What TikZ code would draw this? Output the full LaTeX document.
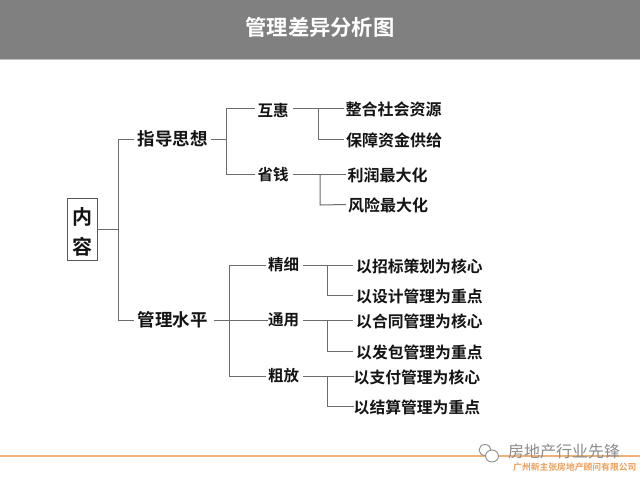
\documentclass[tikz,border=0pt]{standalone}
\usepackage{fontspec}
\setmainfont{Noto Sans CJK SC}[BoldFont={Noto Sans CJK SC Bold}]
\begin{document}
\begin{tikzpicture}[x=1pt,y=-1pt,
  ln/.style={draw=black!58,line width=1pt},
  lab/.style={font=\fontsize{16}{16}\selectfont\bfseries,text=black!92,inner sep=0pt,anchor=west,yshift=-1pt},
  lab2/.style={lab,font=\fontsize{15.8}{16}\selectfont\bfseries},
  mid/.style={font=\fontsize{15.5}{16}\selectfont\bfseries,text=black!92,inner sep=2pt},
  main/.style={font=\fontsize{17.5}{18}\selectfont\bfseries,text=black!92,inner sep=3pt}]
\useasboundingbox (0,0) rectangle (640,480);
\fill[white] (0,0) rectangle (640,480);
\fill[black!50] (0,0) rectangle (640,59);
\fill[black!25] (0,59) rectangle (640,60);
\node[font=\fontsize{21.3}{22}\selectfont\bfseries,text=white,inner sep=0pt] (title) at (320,27) {管理差异分析图};
% root
\node[draw=black!65,line width=.8pt,fill=white,minimum width=30pt,minimum height=62pt,inner sep=0pt] (root) at (82,229) {};
\node[font=\fontsize{20}{20}\selectfont\bfseries,text=black!92,inner sep=0pt] (r1) at (82,217) {内};
\node[font=\fontsize{20}{20}\selectfont\bfseries,text=black!92,inner sep=0pt] (r2) at (82,247) {容};
\node[main] (a1) at (172.5,139) {指导思想};
\node[main] (a2) at (172.5,320) {管理水平};
\coordinate (t0) at (118,229);
\coordinate (t1) at (118,139);
\coordinate (t2) at (118,320);
\draw[ln] (root.east) -- (t0);
\draw[ln] (a1.west) -- (t1) -- (t2) -- (a2.west);
% upper
\node[mid] (b1) at (273,110) {互惠};
\node[mid] (b2) at (273,175) {省钱};
\coordinate (u0) at (226,139);
\coordinate (u1) at (226,108);
\coordinate (u2) at (226,174);
\draw[ln] (a1.east) -- (u0);
\draw[ln] (b1.west|-u1) -- (u1) -- (u2) -- (b2.west|-u2);
\node[lab] (c1) at (345.5,108) {整合社会资源};
\node[lab] (c2) at (346,139) {保障资金供给};
\node[lab] (c3) at (347.5,174) {利润最大化};
\node[lab] (c4) at (348,204.5) {风险最大化};
\coordinate (v1) at (318,108);
\coordinate (v2) at (318,139);
\coordinate (v3) at (320,174);
\coordinate (v4) at (320,205);
\draw[ln] ([xshift=2pt]b1.east|-v1) -- ([xshift=-2pt,yshift=1pt]c1.west);
\draw[ln] (v1) -- (v2) -- ([xshift=-2pt,yshift=1pt]c2.west);
\draw[ln] ([xshift=2pt]b2.east|-v3) -- ([xshift=-2pt,yshift=1pt]c3.west);
\draw[ln] (v3) -- (v4) -- ([xshift=-2pt,yshift=1pt]c4.west);
% lower
\node[mid] (d1) at (283.5,265) {精细};
\node[mid,inner xsep=0pt] (d2) at (283.5,320) {通用};
\node[mid] (d3) at (283.5,376) {粗放};
\coordinate (w1) at (229,265);
\coordinate (w3) at (229,376);
\draw[ln] (a2.east) ++(3pt,0) -- (d2.west);
\draw[ln] (d1.west) -- (w1) -- (w3) -- (d3.west);
\node[lab2] (e1) at (356,265) {以招标策划为核心};
\node[lab2] (e2) at (356,295) {以设计管理为重点};
\node[lab2] (e3) at (356,320) {以合同管理为核心};
\node[lab2] (e4) at (356,351) {以发包管理为重点};
\node[lab2] (e5) at (353.5,376) {以支付管理为核心};
\node[lab2] (e6) at (353.5,406) {以结算管理为重点};
\coordinate (x1) at (327.5,265);
\coordinate (x2) at (327.5,295);
\coordinate (x3) at (327.5,320);
\coordinate (x4) at (327.5,351);
\coordinate (x5) at (327.5,376);
\coordinate (x6) at (327.5,406);
\draw[ln] ([xshift=2pt]d1.east) -- ([xshift=-3pt,yshift=1pt]e1.west);
\draw[ln] (x1) -- (x2) -- ([xshift=-3pt,yshift=1pt]e2.west);
\draw[ln] ([xshift=4pt]d2.east) -- ([xshift=-3pt,yshift=1pt]e3.west);
\draw[ln] (x3) -- (x4) -- ([xshift=-3pt,yshift=1pt]e4.west);
\draw[ln] ([xshift=2pt]d3.east) -- ([yshift=1pt]e5.west);
\draw[ln] (x5) -- (x6) -- ([yshift=1pt]e6.west);
% footer
\coordinate (f0) at (0,456);
\coordinate (f1) at (640,456);
\draw[draw={rgb,255:red,238;green,178;blue,120},line width=1.2pt] (f0) -- (f1);
\draw[black!45,line width=.9pt,fill=white] (485,450) ellipse (6pt and 5.5pt);
\draw[black!45,line width=.9pt,fill=white] (492,456) ellipse (6.5pt and 6pt);
\node[font=\fontsize{16}{16}\selectfont,text=black!45,inner sep=0pt,anchor=west] (wm) at (508,451) {房地产行业先锋};
\node[font=\fontsize{8.8}{9}\selectfont\bfseries,text={rgb,255:red,235;green,160;blue,90},inner sep=0pt,anchor=west] (co) at (513,467) {广州新主张房地产顾问有限公司};
\end{tikzpicture}
\end{document}
